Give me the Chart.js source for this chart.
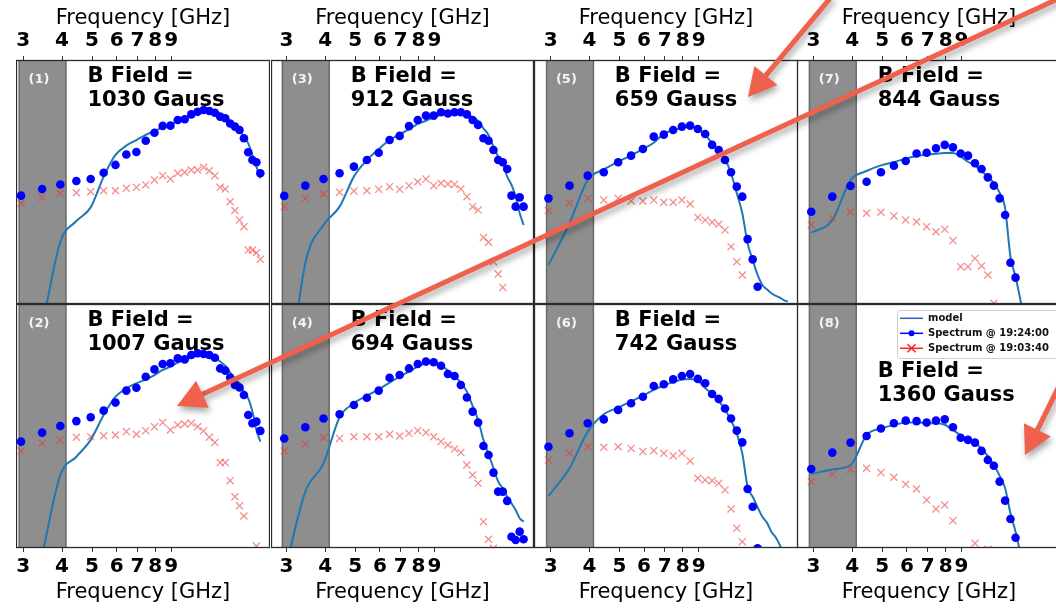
<!DOCTYPE html>
<html>
<head>
<meta charset="utf-8">
<script src="https://cdn.jsdelivr.net/npm/chart.js@4.4.0/dist/chart.umd.min.js"></script>
<style>
  html, body { margin: 0; padding: 0; background: #fff; }
  body { width: 1056px; height: 608px; overflow: hidden; position: relative; }
  .panel { position: absolute; }
  #arrows { position: absolute; left: 0; top: 0; pointer-events: none; }
</style>
</head>
<body>
<div id="panels"></div>
<canvas id="arrows" width="1056" height="608"></canvas>
<script>
// measurement grid shared by all panels (GHz)
const freqGHz = [2.95, 3.45, 3.95, 4.45, 4.95, 5.45, 5.95, 6.45, 6.95, 7.45, 7.95, 8.45, 8.95, 9.45, 9.95,
                 10.45, 10.95, 11.45, 11.95, 12.45, 12.95, 13.45, 13.95, 14.45, 14.95, 15.45, 15.95, 16.45, 16.95, 17.45];
const tickValues = [3, 4, 5, 6, 7, 8, 9];
const tickLabels = ['3', '4', '5', '6', '7', '8', '9'];
const shadeBand = [2.91, 4.12];
const seriesLabels = ['model', 'Spectrum @ 19:24:00', 'Spectrum @ 19:03:40'];
const panelTags = ['(1)', '(2)', '(3)', '(4)', '(5)', '(6)', '(7)', '(8)'];
const bFieldGauss = [1030, 1007, 912, 694, 659, 742, 844, 1360];

// Spectrum @ 19:24:00 (blue dots), relative level
const blue1 = [44.4, 47.1, 49.0, 50.4, 51.2, 53.8, 57.0, 61.3, 62.3, 66.9, 70.2, 73.0, 73.1, 75.4, 75.7, 77.7, 78.8, 79.5, 79.1, 78.4, 76.8, 76.1, 74.0, 72.7, 71.3, 67.9, 62.2, 59.0, 58.1, 53.6];
const blue2 = [43.6, 47.3, 50.0, 52.0, 53.6, 56.3, 59.6, 64.5, 65.7, 70.2, 73.2, 75.4, 75.7, 77.7, 77.3, 79.1, 79.8, 79.5, 79.1, 78.0, 73.6, 72.7, 69.9, 66.8, 65.8, 62.7, 54.5, 51.1, 51.8, 48.0];
const blue3 = [44.3, 48.5, 51.2, 53.6, 56.3, 59.0, 62.0, 67.2, 68.9, 72.9, 75.4, 77.2, 77.2, 78.6, 78.1, 78.6, 78.6, 77.7, 75.4, 73.4, 67.9, 66.9, 63.1, 59.0, 58.1, 55.3, 44.4, 39.9, 43.7, 39.9];
const blue4 = [44.9, 49.5, 53.1, 54.8, 58.6, 61.6, 64.5, 69.8, 70.9, 73.6, 75.4, 76.4, 76.1, 74.7, 71.3, 70.5, 66.8, 61.7, 55.9, 51.4, 41.8, 38.1, 30.9, 23.1, 23.1, 19.3, 4.6, 3.3, 6.7, 3.6];
const blue5 = [43.3, 48.5, 52.6, 54.0, 58.1, 60.8, 63.5, 68.6, 69.4, 71.3, 72.7, 73.1, 71.7, 69.7, 65.2, 63.1, 59.0, 54.0, 48.1, 44.0, 26.6, 18.3, 7.1, -6, -9, -12, -15, -18, -21, -24];
const blue6 = [41.5, 47.0, 51.1, 52.7, 56.6, 59.3, 62.0, 66.4, 67.1, 69.1, 70.5, 71.3, 69.3, 67.5, 63.1, 61.1, 57.2, 53.1, 48.1, 43.3, 24.2, 16.9, -0.1, -6, -9, -12, -15, -18, -21, -24];
const blue7 = [37.8, 44.0, 48.4, 50.1, 54.0, 56.7, 58.6, 61.7, 62.0, 63.8, 65.2, 64.2, 61.7, 60.8, 57.7, 55.3, 51.9, 48.5, 43.3, 36.5, 16.9, 10.8, -5, -8, -11, -14, -17, -20, -23, -26];
const blue8 = [32.4, 39.1, 43.2, 45.9, 49.0, 51.1, 52.2, 52.0, 51.4, 52.2, 52.7, 49.5, 45.2, 44.3, 43.2, 39.8, 36.1, 33.7, 27.2, 19.4, 11.9, 4.2, -5, -8, -11, -14, -17, -20, -23, -26];

// Spectrum @ 19:03:40 (red crosses)
const red1 = [41.3, 43.7, 45.4, 45.6, 46.0, 46.4, 46.4, 47.4, 47.8, 48.8, 50.8, 52.6, 51.2, 53.6, 54.0, 54.9, 54.9, 56.0, 54.6, 52.6, 47.8, 47.1, 41.9, 38.3, 34.4, 31.7, 22.1, 22.1, 21.0, 18.3];
const red2 = [39.8, 42.9, 44.3, 45.4, 45.6, 46.0, 46.3, 47.7, 46.6, 48.1, 49.7, 51.4, 48.4, 50.4, 50.8, 51.1, 49.7, 48.0, 45.4, 43.2, 35.0, 35.0, 27.6, 21.0, 17.3, 13.1, -3, -2, 0.8, -6];
const red3 = [39.9, 43.3, 45.1, 45.8, 46.3, 46.4, 47.0, 48.1, 47.0, 48.5, 50.1, 51.2, 48.5, 49.5, 49.2, 49.0, 47.1, 44.0, 39.9, 38.5, 27.3, 25.3, 17.3, 12.3, 6.8, -3, -6, -9, -12, -15];
const red4 = [39.8, 42.6, 45.2, 44.9, 45.6, 45.6, 45.6, 46.6, 45.9, 47.0, 48.1, 47.3, 45.6, 43.6, 42.2, 40.6, 39.1, 34.0, 29.9, 26.5, 10.8, 3.6, -0.1, -5, -8, -10, -12, -14, -16, -18];
const red5 = [38.3, 41.3, 43.3, 42.6, 43.3, 42.2, 42.2, 42.6, 41.7, 41.7, 42.6, 41.0, 35.5, 34.4, 33.5, 32.7, 30.3, 23.5, 17.3, 11.9, -3, -6, -9, -12, -15, -18, -21, -24, -27, -30];
const red6 = [36.1, 38.8, 41.5, 41.3, 41.5, 40.8, 39.5, 39.9, 38.8, 37.8, 38.8, 35.7, 28.6, 27.9, 27.6, 26.5, 23.8, 16.0, 8.1, 2.6, -5, -8, -11, -14, -17, -20, -23, -26, -29, -32];
const red7 = [32.4, 35.1, 37.8, 37.2, 37.6, 36.1, 34.4, 33.7, 31.7, 29.6, 30.6, 26.0, 15.3, 15.3, 18.7, 15.6, 11.9, 0.3, -5, -8, -11, -14, -17, -20, -23, -26, -29, -32, -35, -38];
const red8 = [27.2, 30.2, 32.2, 32.7, 30.9, 29.0, 26.1, 24.2, 19.7, 16.0, 17.6, 11.2, -3, -4, 1.9, -3, -0.5, -6, -9, -12, -15, -18, -21, -24, -27, -30, -33, -36, -39, -42];

// model curve
const model1 = [-30, -8, 25.5, 34.0, 39.6, 52.2, 61.1, 64.9, 67.2, 69.3, 70.9, 72.3, 73.6, 75.0, 76.1, 77.5, 78.6, 79.2, 79.5, 79.1, 77.7, 76.5, 74.3, 72.7, 71.3, 68.6, 65.8, 61.1, 56.3, 51.5];
const model2 = [-40, -3, 29.9, 37.4, 44.3, 54.5, 62.0, 65.4, 67.5, 69.1, 70.9, 73.0, 74.3, 76.0, 77.0, 78.1, 78.8, 79.1, 78.8, 78.1, 76.4, 74.7, 71.9, 69.3, 67.5, 64.1, 61.3, 55.9, 48.4, 43.6];
const model3 = [-45, 16.7, 32.4, 39.9, 52.2, 59.0, 63.5, 67.2, 69.5, 71.6, 73.8, 75.1, 76.5, 77.5, 78.1, 78.4, 78.4, 77.7, 76.5, 75.0, 72.0, 69.3, 64.5, 60.4, 57.7, 52.2, 48.8, 44.0, 37.2, 32.4];
const model4 = [-10.7, 23.1, 34.7, 53.6, 59.3, 62.4, 65.0, 67.8, 70.2, 72.3, 74.3, 75.7, 76.0, 74.7, 72.7, 70.2, 67.8, 64.1, 58.2, 52.5, 44.3, 38.5, 32.7, 27.2, 24.5, 21.0, 18.3, 15.6, 12.2, 10.8];
const model5 = [16.0, 33.1, 50.8, 55.2, 58.3, 60.9, 63.5, 66.1, 69.7, 71.3, 72.1, 72.7, 71.7, 69.3, 65.8, 62.4, 59.3, 53.6, 45.4, 37.2, 24.9, 18.0, 11.9, 7.8, 6.0, 4.4, 3.4, 2.6, 1.6, 1.0];
const model6 = [21.3, 32.7, 47.7, 54.8, 57.5, 60.1, 62.4, 64.8, 66.7, 68.0, 69.0, 69.3, 68.6, 65.6, 63.1, 60.2, 56.8, 52.2, 47.0, 38.8, 25.1, 21.0, 16.7, 12.8, 10.4, 6.7, 4.4, 1.2, -3, -5];
const model7 = [29.2, 34.4, 50.8, 54.5, 56.8, 58.1, 59.6, 60.7, 61.2, 61.6, 61.9, 61.9, 60.4, 58.3, 56.7, 54.5, 52.2, 49.5, 45.6, 39.2, 19.4, 11.2, 1.6, -8, -14, -20, -25, -30, -35, -40];
const model8 = [30.3, 32.2, 33.9, 46.3, 49.0, 50.4, 51.4, 51.4, 51.2, 51.1, 50.5, 48.4, 46.2, 44.5, 43.3, 40.6, 37.7, 34.0, 29.6, 24.5, 14.2, 6.7, -2.2, -10, -15, -20, -25, -30, -35, -40];

const blueSets = [blue1, blue2, blue3, blue4, blue5, blue6, blue7, blue8];
const redSets = [red1, red2, red3, red4, red5, red6, red7, red8];
const modelSets = [model1, model2, model3, model4, model5, model6, model7, model8];

// column geometry (px) and visible frequency window per column
const colLeft = [16, 271, 534, 797];
const colWidth = [254, 263, 264, 264];
const colFreqMin = [2.842, 2.674, 2.65, 2.654];
const colFreqMax = [18.75, 18.85, 18.83, 18.85];

Chart.defaults.font.family = '"DejaVu Sans"';

function pts(vals) {
    return freqGHz.map((f, i) => ({ x: f, y: vals[i] }));
}

const panelDecor = {
    id: 'panelDecor',
    beforeDatasetsDraw(chart, args, o) {
        const { ctx, chartArea: a, scales: { x } } = chart;
        const x0 = x.getPixelForValue(shadeBand[0]);
        const x1 = x.getPixelForValue(shadeBand[1]);
        ctx.save();
        ctx.fillStyle = '#8e8e8e';
        ctx.fillRect(x0, a.top, x1 - x0, a.bottom - a.top);
        ctx.strokeStyle = '#6a6a6a';
        ctx.lineWidth = 1.5;
        ctx.beginPath();
        ctx.moveTo(x0, a.top); ctx.lineTo(x0, a.bottom);
        ctx.moveTo(x1, a.top); ctx.lineTo(x1, a.bottom);
        ctx.stroke();
        ctx.fillStyle = '#f4f4f4';
        ctx.font = 'bold 13px "DejaVu Sans"';
        ctx.textAlign = 'center';
        ctx.textBaseline = 'middle';
        ctx.fillText(o.tag, x.getPixelForValue(3.37), a.top + 20);
        ctx.restore();
    },
    afterDraw(chart, args, o) {
        const { ctx, chartArea: a, scales: { x } } = chart;
        ctx.save();
        // B field annotation
        ctx.fillStyle = '#000';
        ctx.font = 'bold 21px "DejaVu Sans"';
        ctx.textAlign = 'left';
        ctx.textBaseline = 'middle';
        const tx = x.getPixelForValue(4.83);
        ctx.fillText('B Field =', tx, a.top + o.textY);
        ctx.fillText(o.field + ' Gauss', tx, a.top + o.textY + 24);

        if (o.legend) {
            const ds = chart.data.datasets;
            const bx = a.left + 100, by = a.top + 6;
            ctx.fillStyle = 'rgba(255,255,255,0.9)';
            ctx.strokeStyle = '#cfcfcf';
            ctx.lineWidth = 1;
            ctx.beginPath();
            ctx.roundRect(bx + 0.5, by + 0.5, 170, 48, 3);
            ctx.fill();
            ctx.stroke();
            const rows = [ds[2], ds[0], ds[1]];
            ctx.font = 'bold 10px "DejaVu Sans"';
            rows.forEach((d, i) => {
                const ry = by + 8.3 + i * 15;
                ctx.strokeStyle = d.legendColor;
                ctx.lineWidth = 1.5;
                ctx.beginPath();
                ctx.moveTo(bx + 3, ry); ctx.lineTo(bx + 26, ry);
                ctx.stroke();
                if (d.pointStyle === 'circle') {
                    ctx.fillStyle = d.legendColor;
                    ctx.beginPath();
                    ctx.arc(bx + 14.5, ry, 3, 0, Math.PI * 2);
                    ctx.fill();
                } else if (d.pointStyle === 'crossRot') {
                    ctx.beginPath();
                    ctx.moveTo(bx + 10.5, ry - 4); ctx.lineTo(bx + 18.5, ry + 4);
                    ctx.moveTo(bx + 18.5, ry - 4); ctx.lineTo(bx + 10.5, ry + 4);
                    ctx.stroke();
                }
                ctx.fillStyle = '#111';
                ctx.textAlign = 'left';
                ctx.fillText(d.label, bx + 31, ry);
            });
        }

        // panel frame
        ctx.strokeStyle = '#2a2a2a';
        ctx.lineWidth = 1.3;
        ctx.strokeRect(a.left + 0.5, a.top + 0.5, a.right - a.left - 1, a.bottom - a.top - 1);
        ctx.restore();
    }
};

const holder = document.getElementById('panels');

for (let n = 0; n < 8; n++) {
    const col = Math.floor(n / 2);
    const row = n % 2;
    const canvas = document.createElement('canvas');
    canvas.className = 'panel';
    canvas.width = colWidth[col];
    canvas.height = 304;
    canvas.style.left = colLeft[col] + 'px';
    canvas.style.top = (row === 0 ? 0 : 304) + 'px';
    holder.appendChild(canvas);

    new Chart(canvas.getContext('2d'), {
        type: 'scatter',
        data: {
            datasets: [
                {
                    label: seriesLabels[1],
                    data: pts(blueSets[n]),
                    showLine: false,
                    pointStyle: 'circle',
                    pointRadius: 4.3,
                    backgroundColor: '#0000ff',
                    borderColor: '#0000ff',
                    pointBorderWidth: 0,
                    legendColor: '#0000ff'
                },
                {
                    label: seriesLabels[2],
                    data: pts(redSets[n]),
                    showLine: false,
                    pointStyle: 'crossRot',
                    pointRadius: 5,
                    borderColor: 'rgba(236,50,50,0.55)',
                    pointBorderWidth: 1.3,
                    legendColor: '#ff2020'
                },
                {
                    label: seriesLabels[0],
                    data: pts(modelSets[n]),
                    showLine: true,
                    borderColor: '#1f77b4',
                    borderWidth: 2,
                    pointRadius: 0,
                    cubicInterpolationMode: 'monotone',
                    fill: false,
                    legendColor: '#2b5fc8'
                }
            ]
        },
        options: {
            responsive: false,
            animation: false,
            events: [],
            layout: { padding: 0, autoPadding: false },
            scales: {
                x: {
                    type: 'logarithmic',
                    position: row === 0 ? 'top' : 'bottom',
                    min: colFreqMin[col],
                    max: colFreqMax[col],
                    bounds: 'data',
                    afterBuildTicks: s => { s.ticks = tickValues.map(v => ({ value: v })); },
                    afterFit: s => { s.height = 60; s.paddingLeft = 0; s.paddingRight = 0; },
                    ticks: {
                        autoSkip: false,
                        maxRotation: 0,
                        minRotation: 0,
                        padding: 3,
                        color: '#000',
                        font: { size: 20, weight: 'bold' },
                        callback: (v, i) => tickLabels[i]
                    },
                    grid: { drawOnChartArea: false, drawTicks: true, tickLength: 4, tickColor: '#333', color: '#333' },
                    border: { display: false },
                    title: {
                        display: true,
                        text: 'Frequency [GHz]',
                        color: '#000',
                        font: { size: 21, lineHeight: 1.2 },
                        padding: row === 0 ? { top: 6, bottom: 0 } : { top: 0, bottom: 3 }
                    }
                },
                y: { type: 'linear', display: false, min: 0, max: 100 }
            },
            plugins: {
                legend: { display: false },
                tooltip: { enabled: false },
                panelDecor: {
                    tag: panelTags[n],
                    field: bFieldGauss[n],
                    textY: n === 7 ? 67.7 : 17,
                    legend: n === 7
                }
            }
        },
        plugins: [panelDecor]
    });
}

// red call-out arrows laid over the figure
const arrowPaths = [
    [832, -4, 748, 97],
    [1062, -3, 177, 406],
    [1066, 372, 1025, 455]
];
const actx = document.getElementById('arrows').getContext('2d');
actx.strokeStyle = '#ef614c';
actx.fillStyle = '#ef614c';
actx.lineWidth = 5;
actx.lineCap = 'butt';
actx.shadowColor = 'rgba(0,0,0,0.35)';
actx.shadowBlur = 6;
actx.shadowOffsetX = 2;
actx.shadowOffsetY = 4;
arrowPaths.forEach(([x0, y0, x1, y1]) => {
    const ang = Math.atan2(y1 - y0, x1 - x0);
    const headLen = 28, headHalf = 15;
    const bx = x1 - headLen * Math.cos(ang);
    const by = y1 - headLen * Math.sin(ang);
    actx.beginPath();
    actx.moveTo(x0, y0);
    actx.lineTo(bx, by);
    actx.stroke();
    actx.beginPath();
    actx.moveTo(x1, y1);
    actx.lineTo(bx + headHalf * Math.sin(ang), by - headHalf * Math.cos(ang));
    actx.lineTo(bx - headHalf * Math.sin(ang), by + headHalf * Math.cos(ang));
    actx.closePath();
    actx.fill();
});
</script>
</body>
</html>
